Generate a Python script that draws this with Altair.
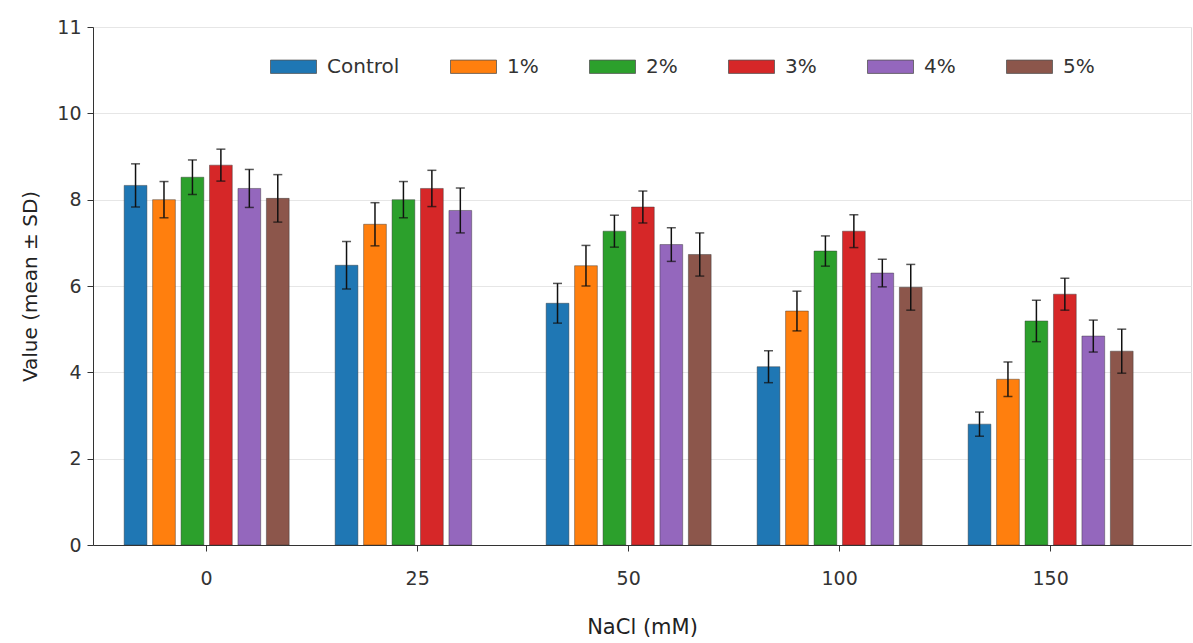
import altair as alt
import pandas as pd

nacl = ["0", "25", "50", "100", "150"]
series = ["Control", "1%", "2%", "3%", "4%", "5%"]
colors = ["#1f77b4", "#ff7f0e", "#2ca02c", "#d62728", "#9467bd", "#8c564b"]

# mean values per series across NaCl levels (None = not shown)
means = {
    "Control": [8.33, 6.48, 5.60, 4.13, 2.80],
    "1%":      [8.00, 7.43, 6.47, 5.42, 3.84],
    "2%":      [8.52, 8.00, 7.27, 6.81, 5.19],
    "3%":      [8.80, 8.26, 7.83, 7.27, 5.81],
    "4%":      [8.26, 7.75, 6.96, 6.30, 4.84],
    "5%":      [8.03, None, 6.73, 5.97, 4.49],
}
sds = {
    "Control": [0.50, 0.55, 0.46, 0.37, 0.28],
    "1%":      [0.42, 0.50, 0.47, 0.46, 0.40],
    "2%":      [0.40, 0.42, 0.37, 0.35, 0.48],
    "3%":      [0.37, 0.42, 0.37, 0.38, 0.37],
    "4%":      [0.44, 0.52, 0.39, 0.32, 0.37],
    "5%":      [0.55, None, 0.50, 0.53, 0.51],
}

rows = []
for s in series:
    for i, n in enumerate(nacl):
        m = means[s][i]
        if m is None:
            continue
        sd = sds[s][i]
        rows.append({"NaCl": n, "Group": s, "mean": m, "lo": m - sd, "hi": m + sd})
df = pd.DataFrame(rows)

FONT = "DejaVu Sans"

x_enc = alt.X("NaCl:N", sort=nacl,
              scale=alt.Scale(paddingInner=0.218, paddingOuter=0.211, align=0.35),
              axis=alt.Axis(title="NaCl (mM)", labelAngle=0, labelFontSize=19,
                            titleFontSize=21, labelPadding=18, titlePadding=28,
                            tickSize=6, domainColor="#333", tickColor="#333",
                            labelColor="#333", titleColor="#222", grid=False,
                            labelFont=FONT, titleFont=FONT, titleFontWeight="normal"))
xoff = alt.XOffset("Group:N", sort=series,
                   scale=alt.Scale(domain=series, paddingInner=0.2, paddingOuter=0))
color = alt.Color("Group:N", sort=series,
                  scale=alt.Scale(domain=series, range=colors),
                  legend=alt.Legend(title=None, orient="none", legendX=177, legendY=16,
                                    direction="horizontal", columns=6,
                                    symbolType="M-1,-0.29H1V0.29H-1Z", symbolSize=2116,
                                    symbolStrokeWidth=0.8, symbolStrokeColor="#555",
                                    labelFontSize=20, labelFont=FONT, labelColor="#333",
                                    labelOffset=10, columnPadding=48, padding=0,
                                    symbolOpacity=1))

y_scale = alt.Scale(domain=[0, 12], nice=False)

bars = alt.Chart(df).mark_bar(stroke="#333", strokeWidth=0.8, strokeOpacity=0.55,
                              opacity=1).encode(
    x=x_enc,
    xOffset=xoff,
    y=alt.Y("mean:Q", scale=y_scale,
            axis=alt.Axis(title="Value (mean ± SD)", values=[0, 2, 4, 6, 8, 10, 12],
                          labelExpr="datum.value == 12 ? '11' : datum.label",
                          labelFontSize=19, titleFontSize=20, tickSize=6,
                          labelPadding=6, titlePadding=16,
                          domainColor="#333", tickColor="#333", labelColor="#333",
                          titleColor="#222", gridColor="#e6e6e6", gridWidth=1,
                          labelFont=FONT, titleFont=FONT, titleFontWeight="normal")),
    color=color,
)

err = alt.Chart(df).mark_rule(color="#111", strokeWidth=1.5).encode(
    x=alt.X("NaCl:N", sort=nacl), xOffset=xoff,
    y=alt.Y("lo:Q", scale=y_scale), y2="hi:Q")

cap_hi = alt.Chart(df).mark_tick(color="#111", thickness=1.5, size=9).encode(
    x=alt.X("NaCl:N", sort=nacl), xOffset=xoff, y=alt.Y("hi:Q", scale=y_scale))
cap_lo = alt.Chart(df).mark_tick(color="#111", thickness=1.5, size=9).encode(
    x=alt.X("NaCl:N", sort=nacl), xOffset=xoff, y=alt.Y("lo:Q", scale=y_scale))

chart = alt.layer(bars, err, cap_hi, cap_lo).properties(
    width=1098, height=518,
    autosize=alt.AutoSizeParams(type="none"),
    padding={"left": 93, "top": 27, "right": 2, "bottom": 98},
).configure_view(stroke=None).configure(background="white")

chart.save("out.html", embed_options={"renderer": "svg", "actions": False})
